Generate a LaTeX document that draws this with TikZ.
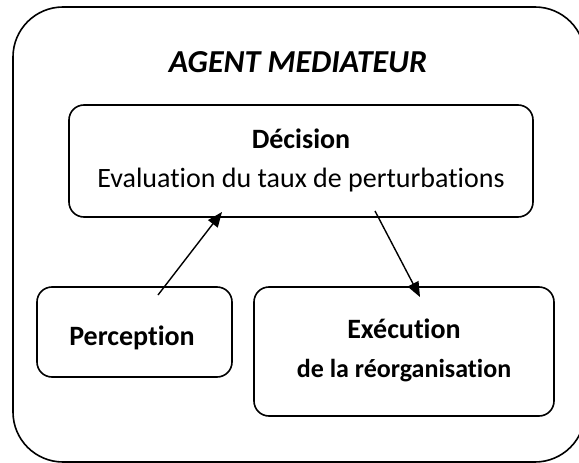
\documentclass[tikz,border=0pt]{standalone}
\usepackage{fontspec}
\setmainfont{Carlito}[RawFeature={-liga;-clig;-calt;-dlig}]
\usetikzlibrary{arrows.meta}
\begin{document}
\begin{tikzpicture}[x=1pt,y=-1pt,
  frame/.style={draw, line width=1.6pt, rounded corners=#1, inner sep=0pt, outer sep=0pt},
  arr/.style={line width=1.4pt, -{Triangle[length=15pt,width=12pt]}},
  lbl/.style={anchor=base, inner sep=0pt, outer sep=0pt}]
\useasboundingbox (0,0) rectangle (579,463);
\fill[white] (0,0) rectangle (579,463);

% outer agent frame
\node[frame=50pt, minimum width=572pt, minimum height=455pt] (agent) at (299,234.5) {};
\node[lbl] (title) at (298,72) {\fontsize{32}{38}\selectfont\bfseries\itshape AGENT MEDIATEUR};

% inner modules
\node[frame=15pt, minimum width=464pt, minimum height=112pt] (dec) at (301,161) {};
\node[frame=15pt, minimum width=195pt, minimum height=90pt] (perc) at (134.5,332) {};
\node[frame=15pt, minimum width=300pt, minimum height=129pt] (exe) at (404,351.5) {};

\node[lbl] (dectitle) at (301,148) {\fontsize{28}{34}\selectfont\bfseries Décision};
\node[lbl] (dectext) at (301,187) {\fontsize{28}{34}\selectfont Evaluation du taux de perturbations};
\node[lbl] (perctitle) at (132,345) {\fontsize{28}{34}\selectfont\bfseries Perception};
\node[lbl] (exetitle) at (404,338) {\fontsize{28}{34}\selectfont\bfseries Exécution};
\node[lbl] (exetext) at (404,377) {\fontsize{26}{32}\selectfont\bfseries de la réorganisation};

% data flow
\draw[arr] ([xshift=23.5pt,yshift=-8pt]perc.north) -- ([xshift=-79pt,yshift=5pt]dec.south);
\draw[arr] ([xshift=74pt,yshift=6pt]dec.south) -- ([xshift=16pt,yshift=-10pt]exe.north);
\end{tikzpicture}
\end{document}
